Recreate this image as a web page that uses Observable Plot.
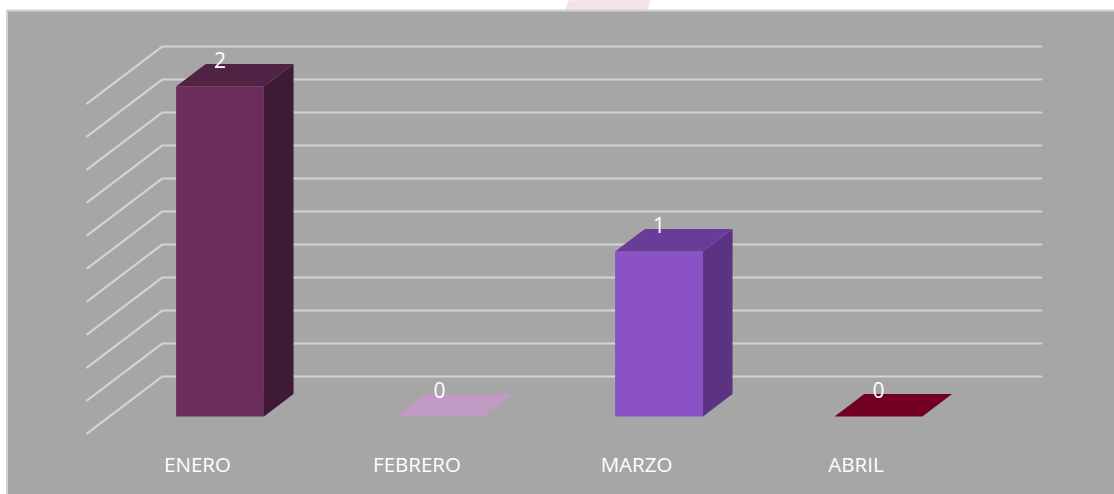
<!DOCTYPE html>
<html>
<head>
<meta charset="utf-8">
<script src="https://cdn.jsdelivr.net/npm/d3@7"></script>
<script src="https://cdn.jsdelivr.net/npm/@observablehq/plot@0.6"></script>
<style>html,body{margin:0;padding:0;background:#fff}svg{display:block}</style>
</head>
<body>
<div id="chart"></div>
<script>
const categories = ["ENERO", "FEBRERO", "MARZO", "ABRIL"];
const values = [2, 0, 1, 0];
const frontColors = ["#6b2d5c", "#c09ac2", "#8a52c4", "#720022"];
const topColors = ["#502243", "#c09ac2", "#693c9a", "#720022"];
const sideColors = ["#3f1a36", "#c09ac2", "#5c3282", "#720022"];
const gridValues = [0, 0.2, 0.4, 0.6, 0.8, 1, 1.2, 1.4, 1.6, 1.8, 2];

const FONT = "Open Sans";
const barW = 0.4, depthX = 0.135, depthY = 0.136;
const wallFrontX = -0.405, wallBackX = -0.0638, wallEndX = 3.941;
const wallFrontY = -0.103, wallBackY = 0.2424;

const faces = [];
categories.forEach((c, i) => {
  const v = values[i];
  const add = (face, color, pts) => pts.forEach(([x, y]) => faces.push({key: c + face, color, x, y}));
  add("front", frontColors[i], [[i, 0], [i + barW, 0], [i + barW, v], [i, v]]);
  add("side", sideColors[i], [[i + barW, 0], [i + barW + depthX, depthY], [i + barW + depthX, v + depthY], [i + barW, v]]);
  add("top", topColors[i], [[i, v], [i + barW, v], [i + barW + depthX, v + depthY], [i + depthX, v + depthY]]);
});
const grid = gridValues.flatMap(v => [
  {v, x: wallFrontX, y: v + wallFrontY},
  {v, x: wallBackX, y: v + wallBackY},
  {v, x: wallEndX, y: v + wallBackY}
]);
const watermark = [{x: 1.79, y: 2.522}, {x: 2.164, y: 2.522}, {x: 2.146, y: 2.462}, {x: 1.77, y: 2.462}];
const rows = categories.map((c, i) => ({c, i, v: values[i]}));

const chart = Plot.plot({
  width: 1114, height: 494,
  marginTop: 0, marginRight: 0, marginBottom: 0, marginLeft: 0,
  x: {type: "linear", domain: [0, 4], range: [175.6, 1053.6], axis: null},
  y: {type: "linear", domain: [0, 2], range: [416, 86], axis: null},
  style: {background: "#fff"},
  marks: [
    Plot.line(watermark, {x: "x", y: "y", fill: "#f1e3e8", stroke: "none"}),
    Plot.frame({fill: "#a6a6a6", stroke: "#d2d2d2", strokeWidth: 2, insetLeft: 6.5, insetTop: 10, insetRight: -6, insetBottom: -6}),
    Plot.line(grid, {x: "x", y: "y", z: "v", stroke: "#d3d3d3", strokeWidth: 2.2, curve: "linear"}),
    Plot.line(faces, {x: "x", y: "y", z: "key", fill: "color", stroke: "none"}),
    Plot.text(rows, {x: d => d.i + barW / 2, y: "v", text: d => String(d.v), fill: "#fff", fontFamily: FONT, fontSize: 21, dy: -25}),
    Plot.text(rows, {x: d => d.i + barW / 2, y: () => 0, text: "c", fill: "#fff", fontFamily: FONT, fontSize: 20.5, dx: -22.5, dy: 49})
  ]
});
document.getElementById("chart").appendChild(chart);
</script>
</body>
</html>
